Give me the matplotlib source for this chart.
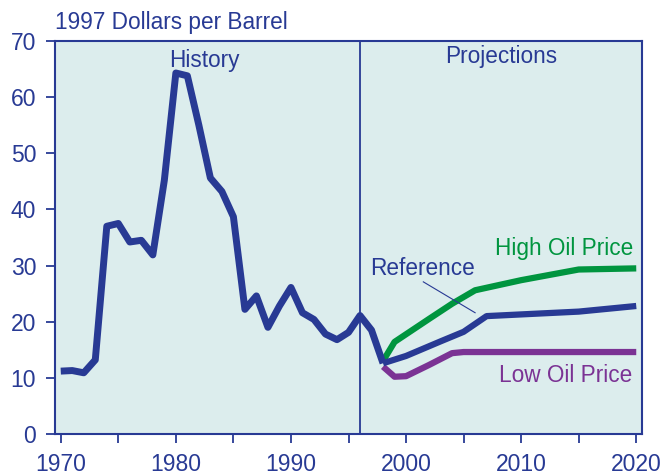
import matplotlib.pyplot as plt

plt.rcParams['font.family'] = ['Liberation Sans', 'DejaVu Sans']

navy = "#283A94"
green = "#00953F"
purple = "#7B3394"
bg = "#DCEDED"

hist_years = list(range(1970, 1999))
hist_price = [11.2, 11.3, 10.9, 13.2, 37.0, 37.5, 34.2, 34.5, 31.9, 45.2,
              64.3, 63.8, 55.0, 45.6, 43.2, 38.7, 22.2, 24.6, 19.0, 22.8,
              26.1, 21.6, 20.4, 17.8, 16.8, 18.1, 21.1, 18.5, 12.6]

ref_years = [1998, 2000, 2003, 2005, 2007, 2010, 2015, 2020]
ref_price = [12.6, 13.9, 16.5, 18.2, 21.0, 21.3, 21.8, 22.8]

high_years = [1998, 1999, 2002, 2004, 2006, 2010, 2015, 2020]
high_price = [13.0, 16.4, 20.5, 23.2, 25.6, 27.4, 29.3, 29.5]

low_years = [1998, 1999, 2000, 2002, 2004, 2005, 2020]
low_price = [12.0, 10.2, 10.3, 12.3, 14.4, 14.6, 14.6]

fig = plt.figure(figsize=(6.63, 4.75), dpi=100)
ax = fig.add_axes([55 / 663, 1 - 434 / 475, 587 / 663, 393 / 475])
ax.set_facecolor(bg)

ax.plot(low_years, low_price, color=purple, lw=4.5, solid_capstyle="butt", zorder=3)
ax.plot(high_years, high_price, color=green, lw=4.5, solid_capstyle="butt", zorder=3)
ax.plot(ref_years, ref_price, color=navy, lw=4.5, solid_capstyle="butt", zorder=4)
ax.plot(hist_years, hist_price, color=navy, lw=5, solid_capstyle="butt", zorder=4)

ax.axvline(1996, color=navy, lw=1.3, zorder=5)

ax.set_xlim(1969.5, 2020.5)
ax.set_ylim(0, 70)
ax.set_xticks(range(1970, 2021, 5))
ax.set_xticklabels([str(y) if y % 10 == 0 else "" for y in range(1970, 2021, 5)])
ax.set_yticks(range(0, 71, 10))

for s in ax.spines.values():
    s.set_color(navy)
    s.set_linewidth(1.5)
ax.tick_params(colors=navy, labelsize=16.5, length=6.5, width=1.3, direction="out")
ax.tick_params(axis="x", pad=7.5)
ax.tick_params(axis="y", pad=7)

fs = 16.3
ax.text(1982.5, 66.6, "History", color=navy, fontsize=fs, ha="center", va="center")
ax.text(2008.3, 67.2, "Projections", color=navy, fontsize=fs, ha="center", va="center")
ax.text(2013.7, 33.1, "High Oil Price", color=green, fontsize=fs, ha="center", va="center")
ax.text(2001.4, 29.5, "Reference", color=navy, fontsize=fs, ha="center", va="center")
ax.text(2013.9, 10.5, "Low Oil Price", color=purple, fontsize=fs, ha="center", va="center")
ax.plot([2001.5, 2006.0], [27.1, 21.6], color=navy, lw=0.8, zorder=5)

fig.text(55 / 663, 1 - 22 / 475, "1997 Dollars per Barrel", color=navy, fontsize=fs,
         ha="left", va="center")

fig.savefig("out.png", dpi=100)
